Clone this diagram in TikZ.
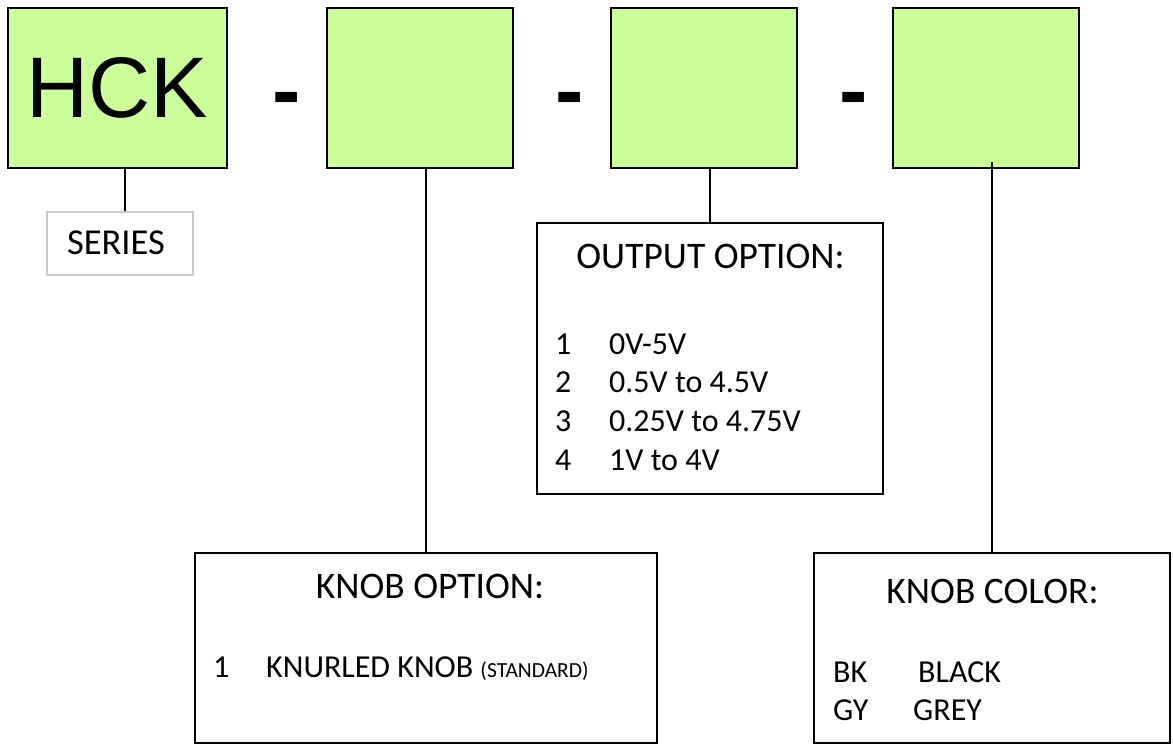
\documentclass[tikz,border=0pt]{standalone}
\usepackage{fontspec}
\setmainfont{Carlito}
\newfontfamily\arialfont{Liberation Sans}
\definecolor{codegreen}{HTML}{CCFF99}
\definecolor{seriesgray}{HTML}{C8C8C8}
\tikzset{
  codebox/.style={draw=black,line width=2pt,fill=codegreen,inner sep=0pt,minimum height=160pt},
  optbox/.style={draw=black,line width=1.8pt,inner sep=0pt},
  link/.style={draw=black,line width=1.2pt},
  ttl/.style={inner sep=0pt,anchor=base,font=\fontsize{37.5}{41}\selectfont},
  itm/.style={inner sep=0pt,anchor=base west,font=\fontsize{32}{36}\selectfont},
  sep/.style={inner sep=0pt,anchor=base,font=\arialfont\bfseries\fontsize{85}{90}\selectfont},
}
\begin{document}
\begin{tikzpicture}[x=1pt,y=-1pt]
  \useasboundingbox[fill=white] (0,0) rectangle (1173,745);

  \node[codebox,minimum width=219pt,font=\arialfont\fontsize{86}{90}\selectfont] (hck) at (117.5,88) {HCK};
  \node[codebox,minimum width=186pt] (knob) at (420,88) {};
  \node[codebox,minimum width=186pt] (output) at (704,88) {};
  \node[codebox,minimum width=186pt] (color) at (986,88) {};
  \foreach \x [count=\i] in {286.5,570,854}
  \node[sep] (dash\i) at (\x,119) {-};

  \node[draw=seriesgray,line width=1.5pt,minimum width=146pt,minimum height=63pt,inner sep=0pt] (series) at (120,243.5) {};
  \node[inner sep=0pt,anchor=base,font=\fontsize{36.5}{40}\selectfont] (seriestxt) at (116,254) {SERIES};

  \node[optbox,minimum width=346pt,minimum height=271pt] (outbox) at (710,358.5) {};
  \node[ttl] (outtitle) at (710.5,268) {OUTPUT OPTION:};
  \foreach \n/\v [count=\i] in {1/0V-5V,2/0.5V to 4.5V,3/0.25V to 4.75V,4/1V to 4V}{
  \node[itm] (outn\i) at (555,{354+38.7*(\i-1)}) {\n};
  \node[itm] (outv\i) at (609,{354+38.7*(\i-1)}) {\v};
  }

  \node[optbox,minimum width=462pt,minimum height=190pt] (knobbox) at (426,648) {};
  \node[ttl] (knobtitle) at (430,598) {KNOB OPTION:};
  \node[itm] (knobn1) at (213,677) {1};
  \node[itm] (knobv1) at (266,677) {KNURLED KNOB {\fontsize{21.5}{24}\selectfont(STANDARD)}};

  \node[optbox,minimum width=356pt,minimum height=190pt] (colorbox) at (992,648) {};
  \node[ttl] (colortitle) at (992.5,603) {KNOB COLOR:};
  \node[itm] (colorn1) at (833,682) {BK};
  \node[itm] (colorv1) at (918,682) {BLACK};
  \node[itm] (colorn2) at (833,720) {GY};
  \node[itm] (colorv2) at (913,720) {GREY};

  \draw[link] ([xshift=5pt]series.north) -- ([xshift=5pt]series.north |- hck.south);
  \draw[link] (knobbox.north) -- (knobbox.north |- knob.south);
  \draw[link] (outbox.north) -- (outbox.north |- output.south);
  \draw[link] (colorbox.north) -- ([yshift=7pt]colorbox.north |- color.south);
\end{tikzpicture}
\end{document}
